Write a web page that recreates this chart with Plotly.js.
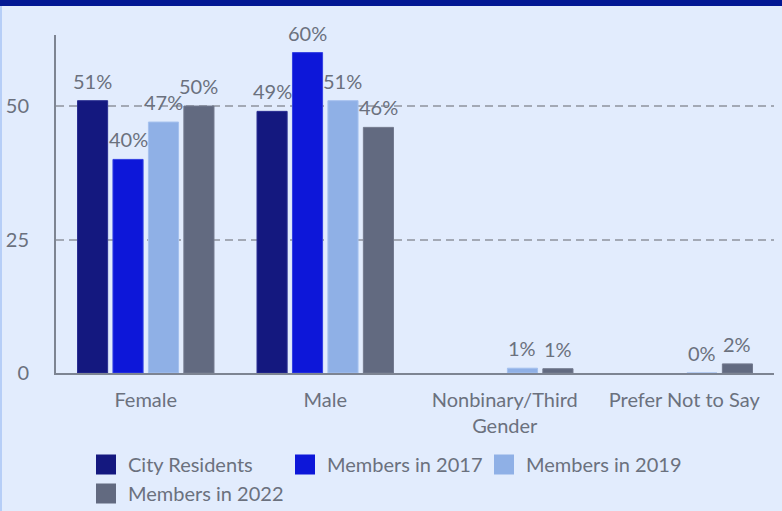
<!DOCTYPE html>
<html>
<head>
<meta charset="utf-8">
<script src="https://cdn.plot.ly/plotly-3.0.1.min.js"></script>
<style>
  html, body { margin: 0; padding: 0; background: #E2ECFD; width: 782px; height: 511px; overflow: hidden; }
  #chart { position: absolute; left: 0; top: 0; width: 782px; height: 511px; }
  #topband { position: absolute; left: 0; top: 0; width: 782px; height: 6px; background: #021894; pointer-events: none; }
  #leftband { position: absolute; left: 0; top: 6px; width: 2px; height: 505px; background: #B6CEF7; pointer-events: none; }
</style>
</head>
<body>
<div id="chart"></div>
<div id="topband"></div>
<div id="leftband"></div>
<script>
const categories = ['Female', 'Male', 'Nonbinary/Third<br>Gender', 'Prefer Not to Say'];
const seriesNames = ['City Residents', 'Members in 2017', 'Members in 2019', 'Members in 2022'];
const cityResidents = [51, 49, null, null];
const members2017 = [40, 60, null, null];
const members2019 = [47, 51, 0.9, 0];
const members2022 = [50, 46, 0.8, 1.7];
const yTicks = [0, 25, 50];

const seriesValues = [cityResidents, members2017, members2019, members2022];
const colors = ['#14187F', '#0D17D9', '#8FB0E6', '#626A80'];
const edgeColors = ['#2A2E92', '#3340E2', '#A5C1EE', '#737A8E'];
const textColor = '#6B717E';
const FONT = 'Lato, "Open Sans", sans-serif';
const FS = 20;

const bargap = 0.21;
const bargroupgap = 0.15;

const traces = [];
seriesValues.forEach((vals, i) => {
  traces.push({
    type: 'bar',
    name: seriesNames[i],
    x: categories,
    y: vals,
    marker: { color: colors[i], line: { color: edgeColors[i], width: 1 } },
    showlegend: false,
    hoverinfo: 'skip'
  });
});
// legend entries (larger square swatches)
seriesValues.forEach((vals, i) => {
  traces.push({
    type: 'scatter',
    mode: 'markers',
    name: seriesNames[i],
    x: [null],
    y: [null],
    marker: { symbol: 'square', size: 16, color: colors[i], line: { color: colors[i], width: 4 } },
    showlegend: true,
    hoverinfo: 'skip'
  });
});

// value labels placed above each bar using data coordinates
const n = seriesValues.length;
const slot = (1 - bargap) / n;
const annotations = [];
seriesValues.forEach((vals, i) => {
  vals.forEach((v, j) => {
    if (v === null) return;
    annotations.push({
      x: j - (1 - bargap) / 2 + slot * (i + 0.5),
      y: v,
      xref: 'x', yref: 'y',
      text: Math.round(v) + '%',
      showarrow: false,
      xanchor: 'center', yanchor: 'bottom',
      yshift: 6,
      font: { family: FONT, size: FS, color: textColor }
    });
  });
});

const layout = {
  width: 782,
  height: 511,
  paper_bgcolor: 'rgba(0,0,0,0)',
  plot_bgcolor: 'rgba(0,0,0,0)',
  margin: { l: 56, r: 8, t: 35, b: 138 },
  barmode: 'group',
  bargap: bargap,
  bargroupgap: bargroupgap,
  font: { family: FONT, size: FS, color: textColor },
  xaxis: {
    type: 'category',
    showline: true,
    linecolor: '#7D8492',
    linewidth: 2,
    showgrid: false,
    zeroline: false,
    ticks: '',
    ticklabelstandoff: 8,
    tickfont: { family: FONT, size: FS, color: textColor },
    fixedrange: true
  },
  yaxis: {
    range: [0, 63.3],
    tickvals: yTicks,
    ticktext: yTicks.map(String),
    showline: true,
    linecolor: '#7D8492',
    linewidth: 2,
    showgrid: true,
    gridcolor: '#A3A9B5',
    gridwidth: 2,
    griddash: '8px,5px',
    zeroline: false,
    ticks: '',
    ticklabelstandoff: 21,
    tickfont: { family: FONT, size: FS, color: textColor },
    fixedrange: true
  },
  legend: {
    orientation: 'h',
    xref: 'container', yref: 'container',
    x: 84 / 782, y: 1 - 445 / 511,
    xanchor: 'left', yanchor: 'top',
    itemsizing: 'trace',
    itemwidth: 34,
    entrywidth: 150,
    font: { family: FONT, size: FS, color: textColor },
    bgcolor: 'rgba(0,0,0,0)',
    traceorder: 'normal'
  },
  annotations: annotations,
  showlegend: true
};

Plotly.newPlot('chart', traces, layout, { displayModeBar: false, staticPlot: true });
</script>
</body>
</html>
